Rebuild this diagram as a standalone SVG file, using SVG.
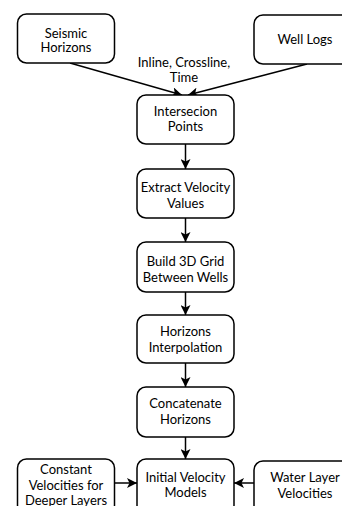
<svg xmlns="http://www.w3.org/2000/svg" width="342" height="506" viewBox="0 0 342 506">
<defs>
<style>
.box{fill:#fff;stroke:#000;stroke-width:1.5}
text{font-family:Lato,"Noto Sans",sans-serif;font-size:13px;fill:#000;text-anchor:middle}
.c{stroke:#000;stroke-width:1.5;fill:none}
</style>
<marker id="ah" viewBox="0 0 10 10" refX="10" refY="5" markerWidth="10" markerHeight="10" markerUnits="userSpaceOnUse" orient="auto">
<path d="M0,0 L10,5 L0,10 L2.5,5 Z" fill="#000"/>
</marker>
</defs>
<rect width="342" height="506" fill="#fff"/>
<g id="connectors">
<path class="c" d="M70,63 L182,95" marker-end="url(#ah)"/>
<path class="c" d="M307,64 L188,95" marker-end="url(#ah)"/>
<text x="184" y="67">Inline, Crossline,</text>
<text x="184" y="82">Time</text>
<path class="c" d="M185.5,144 L185.5,169" marker-end="url(#ah)"/>
<path class="c" d="M185.5,218 L185.5,242" marker-end="url(#ah)"/>
<path class="c" d="M185.5,292 L185.5,315" marker-end="url(#ah)"/>
<path class="c" d="M185.5,363 L185.5,387" marker-end="url(#ah)"/>
<path class="c" d="M185.5,437 L185.5,459" marker-end="url(#ah)"/>
<path class="c" d="M115,483 L137,483" marker-end="url(#ah)"/>
<path class="c" d="M254,483 L234,483" marker-end="url(#ah)"/>
</g>
<g id="seismic"><rect class="box" x="17.5" y="14" width="97" height="49" rx="9"/><text x="66" y="37.5">Seismic</text><text x="66" y="52">Horizons</text></g>
<g id="welllogs"><rect class="box" x="254" y="15" width="102" height="49" rx="9"/><text x="305" y="44">Well Logs</text></g>
<g id="intersection"><rect class="box" x="137" y="95" width="97" height="49" rx="9"/><text x="185.5" y="115.5">Intersecion</text><text x="185.5" y="130.5">Points</text></g>
<g id="extract"><rect class="box" x="137" y="169" width="97" height="49" rx="9"/><text x="185.5" y="192">Extract Velocity</text><text x="185.5" y="208">Values</text></g>
<g id="grid"><rect class="box" x="137" y="242" width="97" height="50" rx="9"/><text x="185.5" y="266">Build 3D Grid</text><text x="185.5" y="282">Between Wells</text></g>
<g id="interp"><rect class="box" x="137" y="315" width="97" height="48" rx="9"/><text x="185.5" y="336">Horizons</text><text x="185.5" y="352">Interpolation</text></g>
<g id="concat"><rect class="box" x="137" y="387" width="97" height="50" rx="9"/><text x="185.5" y="408">Concatenate</text><text x="185.5" y="424">Horizons</text></g>
<g id="initial"><rect class="box" x="137" y="459" width="97" height="55" rx="9"/><text x="185.5" y="482">Initial Velocity</text><text x="185.5" y="497">Models</text></g>
<g id="constant"><rect class="box" x="17.5" y="459" width="97" height="55" rx="9"/><text x="66" y="473.5">Constant</text><text x="66" y="489.5">Velocities for</text><text x="66" y="505">Deeper Layers</text></g>
<g id="water"><rect class="box" x="254" y="461" width="102" height="55" rx="9"/><text x="305" y="482">Water Layer</text><text x="305" y="498">Velocities</text></g>
</svg>
